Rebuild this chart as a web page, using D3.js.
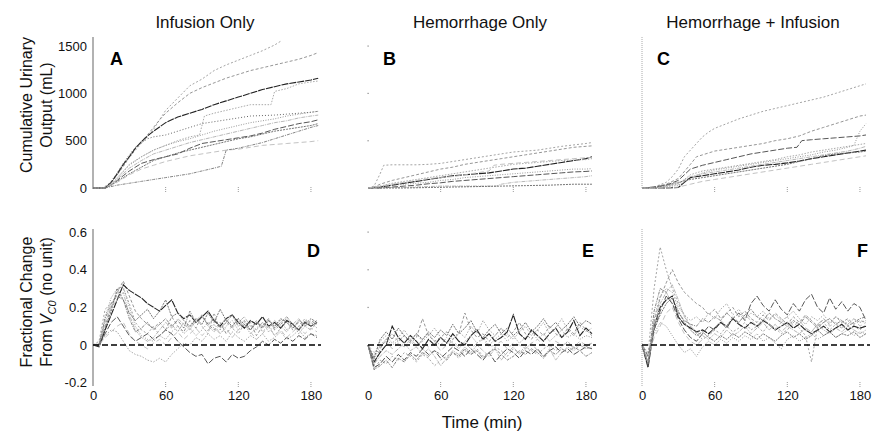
<!DOCTYPE html>
<html>
<head>
<meta charset="utf-8">
<title>Urinary output and fractional change of V_C0</title>
<script src="https://cdnjs.cloudflare.com/ajax/libs/d3/7.8.5/d3.min.js"></script>
<style>
  body { margin: 0; background: #fff; }
  svg { font-family: "Liberation Sans", Arial, sans-serif; }
</style>
</head>
<body>
<svg id="chart" width="882" height="434"></svg>
<script>
// ---- data ----
var groups = ["Infusion Only", "Hemorrhage Only", "Hemorrhage + Infusion"];
var topLetters = ["A", "B", "C"];
var botLetters = ["D", "E", "F"];

var yTicksTop = [0, 500, 1000, 1500];
var yTicksBot = [-0.2, 0, 0.2, 0.4, 0.6];
var yLabelsBot = ["-0.2", "0", "0.2", "0.4", "0.6"];
var xTicks = [0, 60, 120, 180];

// cumulative urinary output, [minute, mL]
var infusionUrine = [
  [[0,0],[8,0],[15,60],[20,140],[25,230],[30,320],[35,400],[40,470],[45,540],[50,620],[55,720],[60,820],[70,950],[80,1080],[90,1150],[100,1240],[110,1300],[120,1350],[130,1400],[140,1450],[150,1510],[155,1550]],
  [[0,0],[10,0],[15,60],[20,140],[25,230],[30,330],[35,420],[40,490],[45,560],[50,640],[55,720],[60,790],[70,900],[80,1000],[90,1060],[100,1110],[110,1160],[120,1200],[130,1240],[140,1270],[150,1300],[160,1330],[170,1360],[180,1400],[186,1430]],
  [[0,0],[10,0],[15,60],[20,150],[25,250],[30,330],[35,420],[40,490],[45,550],[50,600],[60,690],[70,750],[80,790],[90,830],[100,880],[110,920],[120,960],[130,1000],[140,1040],[150,1070],[160,1100],[170,1120],[180,1140],[186,1160]],
  [[0,0],[10,0],[15,40],[20,100],[25,170],[30,250],[40,330],[50,400],[60,450],[70,500],[80,540],[88,560],[92,760],[100,790],[110,820],[120,850],[130,880],[147,880],[150,1020],[160,1050],[170,1100],[180,1120],[186,1130]],
  [[0,0],[10,0],[15,30],[20,80],[25,130],[30,180],[40,260],[50,300],[60,330],[70,360],[80,420],[90,470],[100,490],[110,510],[120,530],[130,550],[140,580],[150,620],[160,650],[170,680],[180,700],[186,720]],
  [[0,0],[10,0],[15,50],[20,110],[25,180],[30,240],[40,330],[50,400],[60,450],[70,490],[80,520],[90,560],[100,600],[110,630],[120,660],[130,690],[140,710],[150,730],[160,760],[170,780],[180,800],[186,810]],
  [[0,0],[10,0],[15,40],[20,90],[25,150],[30,210],[40,290],[50,360],[60,400],[70,440],[80,480],[90,510],[100,540],[110,570],[120,600],[130,630],[140,660],[150,690],[160,710],[170,740],[180,760],[186,770]],
  [[0,0],[10,0],[15,30],[20,70],[25,110],[30,150],[40,220],[50,290],[60,330],[70,370],[80,400],[90,430],[100,460],[110,490],[120,520],[130,540],[140,570],[150,600],[160,620],[170,640],[180,660],[186,680]],
  [[0,0],[10,0],[15,30],[20,60],[25,100],[30,140],[40,200],[50,240],[60,280],[70,310],[80,340],[90,360],[100,380],[110,400],[120,410],[130,430],[140,450],[150,460],[160,470],[170,480],[180,490],[186,500]],
  [[0,0],[10,0],[20,30],[30,50],[40,70],[50,90],[60,110],[70,130],[80,150],[90,180],[100,210],[106,230],[110,400],[120,420],[130,450],[140,480],[150,520],[160,560],[170,600],[180,640],[186,660]],
  [[0,0],[10,0],[15,70],[20,160],[25,260],[30,350],[35,430],[40,480],[45,520],[50,540],[60,560],[70,600],[80,640],[90,680],[100,700],[110,720],[120,740],[130,760],[150,770],[160,780],[170,790],[180,800],[186,810]]
];

var hemorrhageUrine = [
  [[0,0],[5,20],[10,150],[13,240],[20,245],[30,245],[40,245],[50,250],[60,260],[70,280],[80,300],[90,320],[100,340],[110,360],[120,380],[130,390],[140,400],[150,420],[160,440],[170,455],[180,470],[185,480]],
  [[0,0],[5,10],[10,40],[20,80],[30,110],[40,140],[50,170],[60,200],[70,220],[80,250],[90,270],[100,290],[110,310],[120,330],[130,350],[140,370],[150,390],[160,410],[170,430],[180,440],[185,445]],
  [[0,0],[10,10],[20,30],[30,50],[40,70],[50,90],[60,110],[70,130],[80,140],[90,150],[100,160],[110,180],[120,200],[130,210],[140,230],[150,250],[160,270],[170,290],[180,310],[185,330]],
  [[0,0],[10,20],[20,50],[30,70],[40,90],[50,110],[60,130],[70,150],[80,170],[90,190],[100,210],[110,230],[120,250],[130,260],[140,270],[150,280],[160,290],[170,295],[180,300],[185,310]],
  [[0,0],[10,0],[20,10],[30,20],[40,30],[50,45],[60,55],[70,70],[80,80],[90,90],[100,100],[110,110],[120,120],[130,130],[140,140],[150,150],[160,160],[170,170],[180,175],[185,180]],
  [[0,0],[10,10],[20,30],[30,40],[40,50],[50,60],[60,80],[70,90],[80,110],[90,120],[100,130],[110,140],[120,150],[130,160],[140,170],[150,180],[160,190],[170,200],[180,200],[185,205]],
  [[0,0],[20,5],[40,10],[60,20],[70,20],[106,20],[110,40],[120,60],[130,70],[140,80],[150,90],[160,100],[170,110],[180,120],[185,130]],
  [[0,0],[10,0],[30,0],[50,5],[70,10],[90,15],[110,20],[130,25],[150,30],[170,40],[185,40]],
  [[0,0],[10,20],[20,40],[30,60],[40,80],[50,100],[60,110],[70,120],[80,140],[90,160],[100,180],[104,240],[110,250],[120,260],[130,270],[140,280],[150,290],[160,300],[170,310],[180,320],[185,320]]
];

var bothUrine = [
  [[0,0],[10,10],[20,60],[25,120],[30,200],[35,330],[40,400],[45,470],[50,540],[55,590],[60,630],[70,680],[80,730],[90,770],[100,810],[110,840],[120,870],[130,900],[140,930],[150,960],[160,1000],[170,1040],[180,1080],[185,1100]],
  [[0,0],[10,10],[20,40],[30,100],[40,250],[45,330],[50,350],[60,390],[70,410],[80,430],[90,450],[100,470],[110,500],[120,520],[130,550],[140,600],[150,640],[160,680],[170,720],[180,760],[185,770]],
  [[0,0],[10,0],[20,0],[30,5],[35,60],[40,110],[50,130],[60,150],[70,170],[80,190],[90,220],[100,240],[110,250],[120,265],[130,285],[140,310],[150,330],[160,350],[170,370],[180,390],[185,400]],
  [[0,0],[10,5],[20,20],[30,40],[40,140],[50,180],[60,200],[70,220],[80,240],[90,260],[100,280],[110,300],[120,330],[130,350],[140,380],[150,400],[160,420],[170,440],[180,460],[185,470]],
  [[0,0],[10,10],[20,30],[30,80],[40,200],[50,240],[60,270],[70,300],[80,330],[90,360],[100,380],[110,400],[120,420],[128,430],[132,500],[140,510],[150,520],[160,530],[170,540],[180,550],[185,560]],
  [[0,0],[10,0],[20,10],[30,30],[40,100],[50,160],[60,190],[70,210],[80,230],[90,250],[100,270],[110,290],[120,310],[130,330],[140,350],[150,380],[160,400],[170,430],[175,450],[180,600],[185,680]],
  [[0,0],[10,0],[20,20],[30,50],[40,120],[50,150],[60,170],[70,190],[80,210],[90,230],[100,250],[110,270],[120,290],[130,310],[140,330],[150,350],[160,370],[170,390],[180,420],[185,440]],
  [[0,0],[10,5],[20,30],[30,60],[40,90],[50,110],[60,130],[70,150],[80,170],[90,190],[100,210],[110,230],[120,250],[130,280],[140,310],[150,340],[160,360],[170,370],[180,380],[185,390]],
  [[0,0],[20,0],[30,10],[40,40],[50,70],[60,90],[70,110],[80,130],[90,150],[100,170],[110,190],[120,210],[130,230],[140,250],[150,270],[160,290],[170,310],[180,330],[185,340]]
];

// fractional change from V_C0, one value every 5 minutes
var minutes = [0,5,10,15,20,25,30,35,40,45,50,55,60,65,70,75,80,85,90,95,100,105,110,115,120,125,130,135,140,145,150,155,160,165,170,175,180,185];

var infusionVc = [
  [0,0.02,0.19,0.22,0.27,0.30,0.22,0.12,0.08,0.06,0.10,0.05,0.08,0.11,0.07,0.12,0.09,0.14,0.10,0.06,0.17,0.08,0.12,0.09,0.06,0.11,0.08,0.13,0.07,0.10,0.05,0.09,0.12,0.08,0.10,0.14,0.11,0.13],
  [0,0.00,0.10,0.20,0.28,0.34,0.26,0.18,0.14,0.11,0.09,0.12,0.08,0.15,0.10,0.07,0.13,0.09,0.16,0.11,0.08,0.12,0.06,0.10,0.14,0.09,0.12,0.05,0.10,0.13,0.08,0.11,0.14,0.09,0.12,0.10,0.13,0.11],
  [0,-0.01,0.08,0.16,0.24,0.32,0.29,0.27,0.25,0.22,0.20,0.18,0.21,0.24,0.17,0.14,0.16,0.12,0.15,0.18,0.13,0.10,0.14,0.16,0.12,0.09,0.13,0.11,0.15,0.10,0.12,0.09,0.13,0.11,0.08,0.12,0.10,0.12],
  [0,0.00,0.05,0.08,0.07,0.02,-0.03,-0.05,-0.06,-0.08,-0.09,-0.07,-0.09,-0.05,-0.02,0.01,0.00,0.04,0.02,0.06,0.03,0.05,0.02,0.07,0.04,0.02,0.05,0.03,0.06,0.02,0.04,0.07,0.03,0.05,0.08,0.04,0.06,0.05],
  [0,0.00,0.06,0.12,0.15,0.10,0.05,0.02,0.04,0.06,0.03,0.05,0.08,0.06,0.02,-0.01,-0.04,-0.06,-0.05,-0.10,-0.07,-0.06,-0.09,-0.05,-0.07,-0.06,-0.03,-0.01,0.02,0.00,0.03,0.01,0.04,0.02,0.05,0.03,0.06,0.04],
  [0,0.01,0.15,0.25,0.30,0.31,0.20,0.10,0.05,0.03,0.02,0.05,0.03,0.07,0.10,0.06,0.09,0.05,0.08,0.12,0.09,0.06,0.10,0.13,0.08,0.11,0.06,0.09,0.12,0.07,0.10,0.13,0.08,0.11,0.06,0.10,0.12,0.09],
  [0,0.00,0.12,0.20,0.24,0.28,0.16,0.08,0.04,0.02,0.04,0.08,0.12,0.09,0.14,0.11,0.08,0.13,0.16,0.10,0.07,0.11,0.14,0.09,0.12,0.15,0.10,0.08,0.12,0.09,0.13,0.10,0.07,0.11,0.14,0.10,0.08,0.12],
  [0,0.00,0.09,0.18,0.30,0.24,0.17,0.13,0.16,0.19,0.14,0.18,0.24,0.15,0.17,0.13,0.10,0.14,0.11,0.17,0.12,0.19,0.13,0.10,0.14,0.11,0.08,0.12,0.09,0.13,0.10,0.14,0.12,0.09,0.13,0.11,0.14,0.12],
  [0,0.00,0.04,0.07,0.10,0.12,0.06,0.02,0.00,-0.02,0.01,0.03,0.00,0.04,0.07,0.03,0.06,0.09,0.05,0.08,0.11,0.06,0.09,0.04,0.08,0.12,0.07,0.03,0.06,0.10,0.05,0.08,0.04,0.07,0.10,0.06,0.09,0.07],
  [0,0.00,0.14,0.22,0.26,0.24,0.14,0.07,0.09,0.12,0.08,0.11,0.14,0.10,0.13,0.09,0.18,0.12,0.15,0.11,0.14,0.09,0.12,0.16,0.10,0.13,0.08,0.12,0.10,0.14,0.09,0.12,0.15,0.11,0.08,0.13,0.10,0.12]
];

var hemorrhageVc = [
  [0,-0.13,-0.08,-0.10,-0.06,-0.08,-0.04,-0.06,-0.09,-0.05,-0.07,-0.11,-0.08,-0.06,-0.04,-0.07,-0.03,-0.05,-0.02,-0.06,-0.04,-0.01,-0.03,-0.06,-0.02,-0.04,-0.01,-0.03,-0.05,-0.02,0.00,-0.03,-0.01,0.02,-0.02,0.01,-0.01,0.01],
  [0,-0.11,-0.02,0.03,0.06,0.02,0.05,0.01,0.04,0.14,0.05,0.02,0.04,0.07,0.03,0.06,0.17,0.08,0.04,0.06,0.02,0.05,0.09,0.04,0.07,0.12,0.06,0.03,0.08,0.05,0.10,0.06,0.04,0.09,0.06,0.12,0.08,0.05],
  [0,-0.09,-0.04,0.00,0.10,0.04,0.01,0.05,0.02,-0.02,0.03,0.00,0.04,0.01,0.06,0.02,0.00,0.05,0.08,0.03,0.06,0.02,0.04,0.07,0.16,0.06,0.03,0.08,0.05,0.02,0.06,0.09,0.04,0.07,0.13,0.05,0.09,0.06],
  [0,-0.06,0.02,0.05,0.01,0.04,0.08,0.03,0.06,0.02,0.05,0.09,0.04,0.01,0.03,0.07,0.04,0.10,0.06,0.13,0.08,0.05,0.09,0.06,0.03,0.07,0.10,0.05,0.08,0.12,0.06,0.09,0.14,0.08,0.05,0.10,0.07,0.09],
  [0,-0.12,-0.10,-0.06,-0.09,-0.05,-0.08,-0.04,-0.06,-0.02,-0.05,-0.03,-0.07,-0.04,-0.01,-0.03,-0.06,-0.02,-0.05,-0.08,-0.04,-0.09,-0.05,-0.02,-0.04,-0.07,-0.03,-0.05,-0.02,-0.06,-0.03,-0.01,-0.04,-0.02,-0.05,-0.03,-0.01,-0.02],
  [0,-0.08,0.00,0.03,0.00,0.02,0.05,0.02,-0.01,0.03,0.06,0.02,0.00,0.04,0.01,-0.02,0.02,0.05,0.01,0.04,0.00,0.03,0.06,0.02,0.05,0.01,0.04,0.07,0.03,0.06,0.02,0.05,0.08,0.04,0.06,0.03,0.05,0.04],
  [0,-0.10,-0.06,-0.03,-0.05,-0.02,0.01,-0.03,-0.01,-0.05,-0.02,-0.06,-0.11,-0.07,-0.03,-0.05,-0.01,-0.04,0.00,-0.03,-0.06,-0.02,-0.08,-0.04,-0.01,-0.05,-0.02,0.01,-0.03,-0.06,-0.02,-0.08,-0.04,-0.01,-0.03,0.00,-0.02,-0.01],
  [0,-0.07,0.03,0.07,0.03,0.09,0.05,0.02,0.06,0.03,0.07,0.04,0.08,0.05,0.11,0.06,0.09,0.13,0.07,0.04,0.08,0.11,0.06,0.09,0.05,0.08,0.12,0.07,0.10,0.14,0.09,0.12,0.08,0.11,0.15,0.10,0.13,0.11],
  [0,-0.04,-0.01,0.02,-0.02,0.01,-0.01,0.03,0.00,0.02,-0.01,0.01,-0.03,0.00,0.02,-0.01,0.01,-0.02,0.01,0.03,-0.01,0.00,0.02,-0.02,0.01,0.00,-0.02,0.01,0.03,0.00,-0.01,0.02,0.00,0.01,-0.01,0.02,0.00,0.01],
  [0,-0.13,-0.11,-0.08,-0.12,-0.07,-0.09,-0.05,-0.08,-0.04,-0.06,-0.03,-0.05,-0.08,-0.04,-0.06,-0.02,-0.05,-0.03,-0.07,-0.04,-0.02,-0.05,-0.08,-0.06,-0.03,-0.05,-0.02,-0.04,-0.07,-0.03,-0.05,-0.02,-0.04,-0.01,-0.03,-0.06,-0.04]
];

var bothVc = [
  [0,-0.05,0.30,0.52,0.40,0.30,0.22,0.16,0.10,0.06,0.03,0.05,0.08,0.06,0.10,0.07,0.09,0.12,0.08,0.10,0.07,0.11,0.09,0.06,0.08,0.12,0.09,0.05,-0.09,0.10,0.12,0.08,0.11,0.09,0.13,0.10,0.08,0.11],
  [0,-0.08,0.12,0.25,0.33,0.40,0.33,0.28,0.25,0.22,0.20,0.16,0.19,0.14,0.17,0.20,0.15,0.18,0.14,0.12,0.16,0.13,0.17,0.14,0.11,0.15,0.12,0.16,0.13,0.10,0.14,0.11,0.15,0.12,0.14,0.11,0.13,0.12],
  [0,-0.12,0.10,0.20,0.24,0.26,0.15,0.11,0.09,0.07,0.08,0.06,0.09,0.12,0.10,0.14,0.11,0.09,0.12,0.10,0.13,0.11,0.08,0.10,0.12,0.09,0.11,0.08,0.06,0.08,0.10,0.07,0.09,0.11,0.08,0.10,0.09,0.10],
  [0,-0.10,0.14,0.26,0.30,0.28,0.20,0.16,0.13,0.15,0.12,0.17,0.14,0.19,0.22,0.16,0.19,0.14,0.17,0.15,0.18,0.14,0.16,0.13,0.15,0.18,0.14,0.11,0.15,0.13,0.16,0.12,0.15,0.13,0.11,0.14,0.12,0.13],
  [0,-0.06,0.08,0.18,0.26,0.22,0.14,0.08,0.04,0.02,0.06,0.10,0.08,0.12,0.09,0.14,0.17,0.13,0.22,0.26,0.21,0.18,0.24,0.19,0.16,0.22,0.18,0.24,0.27,0.20,0.17,0.25,0.19,0.23,0.18,0.22,0.20,0.13],
  [0,-0.04,0.06,0.12,0.10,0.05,0.00,-0.04,-0.02,-0.06,-0.01,0.02,0.00,0.03,0.01,0.04,0.02,0.05,0.03,0.06,0.02,0.04,0.01,-0.02,0.03,0.05,0.02,0.04,0.06,0.03,0.05,0.07,0.04,0.06,0.08,0.05,0.07,0.06],
  [0,-0.09,0.10,0.22,0.28,0.32,0.24,0.15,0.10,0.07,0.05,0.03,0.06,0.04,0.08,0.05,0.07,0.10,0.06,0.09,0.12,0.08,0.11,0.07,0.10,0.08,0.06,0.09,0.07,0.11,0.08,0.06,0.09,0.07,0.10,0.08,0.06,0.08],
  [0,-0.11,0.08,0.16,0.22,0.25,0.18,0.12,0.08,0.05,0.07,0.04,0.02,0.05,0.03,0.06,0.04,0.07,0.05,0.03,0.06,0.04,0.02,0.05,0.07,0.04,0.06,0.03,0.05,0.08,0.05,0.07,0.04,0.06,0.05,0.07,0.04,0.06],
  [0,-0.07,0.04,0.10,0.17,0.20,0.12,0.06,0.02,0.00,0.03,0.05,0.09,0.13,0.10,0.15,0.12,0.16,0.13,0.10,0.14,0.11,0.08,0.12,0.15,0.10,0.13,0.09,0.07,0.11,0.14,0.10,0.12,0.09,0.11,0.14,0.10,0.12],
  [0,-0.10,0.18,0.30,0.28,0.22,0.17,0.13,0.11,0.10,0.14,0.12,0.15,0.13,0.17,0.14,0.12,0.16,0.19,0.15,0.13,0.17,0.14,0.12,0.10,0.13,0.11,0.15,0.12,0.09,0.12,0.14,0.11,0.13,0.10,0.12,0.14,0.15]
];

var urineSets = [infusionUrine, hemorrhageUrine, bothUrine];
var vcSets = [infusionVc, hemorrhageVc, bothVc];

// ---- look: thin grey broken lines, two darker ones per panel ----
var lineStyles = [
  { stroke: "#9a9a9a", dash: "2,2",       width: 0.9 },
  { stroke: "#8a8a8a", dash: "3,2",       width: 0.9 },
  { stroke: "#222",    dash: "7,1",       width: 1.1 },
  { stroke: "#aaa",    dash: "1.5,1.5",   width: 1 },
  { stroke: "#444",    dash: "6,2",       width: 0.9 },
  { stroke: "#999",    dash: "1,1.5",     width: 1 },
  { stroke: "#b0b0b0", dash: "4,1,1,1",   width: 0.9 },
  { stroke: "#666",    dash: "2,1",       width: 0.9 },
  { stroke: "#bbb",    dash: "5,3",       width: 0.9 },
  { stroke: "#777",    dash: "3,1,1,1",   width: 0.9 },
  { stroke: "#666",    dash: "1,2",       width: 1 }
];

var colLeft = [93, 368, 642];
var plotW = 224;

var svg = d3.select("#chart");

var yTop = d3.scaleLinear().domain([0, 1600]).range([188, 36.5]);
var yBot = d3.scaleLinear().domain([-0.2, 0.6]).range([382.7, 232]);

function styleLine(sel, i) {
  var s = lineStyles[i % lineStyles.length];
  sel.attr("fill", "none")
    .attr("stroke", s.stroke)
    .attr("stroke-width", s.width)
    .attr("stroke-dasharray", s.dash);
}

function drawYAxisLine(g, col, y0, y1) {
  if (col === 0) {
    g.append("line").attr("x1", 0).attr("x2", 0).attr("y1", y0).attr("y2", y1)
      .attr("stroke", "#999").attr("stroke-width", 1.5);
  } else if (col === 2) {
    g.append("line").attr("x1", 0).attr("x2", 0).attr("y1", y0).attr("y2", y1)
      .attr("stroke", "#aaa").attr("stroke-width", 1).attr("stroke-dasharray", "1,1");
  }
}

groups.forEach(function(name, col) {
  var x = d3.scaleLinear().domain([0, 185]).range([colLeft[col], colLeft[col] + plotW]);

  // ---------- top row: cumulative urinary output ----------
  var gt = svg.append("g");
  var axT = gt.append("g").attr("transform", "translate(" + colLeft[col] + ",0)");
  drawYAxisLine(axT, col, 37, 189);
  if (col === 0) {
    var ya = axT.append("g").call(d3.axisLeft(yTop).tickValues(yTicksTop).tickSize(0).tickPadding(6)
      .tickFormat(d3.format("d")));
    ya.select(".domain").remove();
    ya.selectAll("text").attr("font-size", 13).attr("fill", "#111")
      .attr("font-family", "'Liberation Sans', Arial, sans-serif");
  } else if (col === 1) {
    axT.selectAll("rect.ytick").data(yTicksTop.slice(1)).enter().append("rect")
      .attr("x", -0.5).attr("y", function(d) { return yTop(d) - 0.5; })
      .attr("width", 1.2).attr("height", 1.2).attr("fill", "#888");
  }
  gt.selectAll("line.xt").data(xTicks.slice(1)).enter().append("line")
    .attr("x1", function(d) { return x(d); }).attr("x2", function(d) { return x(d); })
    .attr("y1", 187).attr("y2", 192)
    .attr("stroke", "#999").attr("stroke-width", 1).attr("stroke-dasharray", "1,1");

  var lineT = d3.line().x(function(d) { return x(d[0]); }).y(function(d) { return yTop(d[1]); });
  gt.selectAll("path.u").data(urineSets[col]).enter().append("path")
    .attr("d", lineT)
    .each(function(d, i) { styleLine(d3.select(this), i); });

  gt.append("text").attr("x", colLeft[col] + (col === 0 ? 17 : 15)).attr("y", 65)
    .attr("font-size", 18).attr("font-weight", "bold").attr("fill", "#000")
    .text(topLetters[col]);

  gt.append("text").attr("x", [205, 480, 753][col]).attr("y", 28)
    .attr("text-anchor", "middle").attr("font-size", 17).attr("fill", "#111")
    .text(name);

  // ---------- bottom row: fractional change of V_C0 ----------
  var gb = svg.append("g");
  var axB = gb.append("g").attr("transform", "translate(" + colLeft[col] + ",0)");
  drawYAxisLine(axB, col, 229, 386);
  if (col === 0) {
    var yb = axB.append("g").call(d3.axisLeft(yBot).tickValues(yTicksBot).tickSize(0).tickPadding(6)
      .tickFormat(function(d, i) { return yLabelsBot[i]; }));
    yb.select(".domain").remove();
    yb.selectAll("text").attr("font-size", 13).attr("fill", "#111")
      .attr("font-family", "'Liberation Sans', Arial, sans-serif");
  } else if (col === 1) {
    axB.selectAll("rect.ytick").data([0.2, 0.4, 0.6]).enter().append("rect")
      .attr("x", -0.5).attr("y", function(d) { return yBot(d) - 0.5; })
      .attr("width", 1.2).attr("height", 1.2).attr("fill", "#888");
  }
  gb.selectAll("line.xt").data(xTicks.slice(1)).enter().append("line")
    .attr("x1", function(d) { return x(d); }).attr("x2", function(d) { return x(d); })
    .attr("y1", 382).attr("y2", 387)
    .attr("stroke", "#999").attr("stroke-width", 1).attr("stroke-dasharray", "1,1");

  var xa = gb.append("g").attr("transform", "translate(0,391)")
    .call(d3.axisBottom(x).tickValues(xTicks).tickSize(0).tickPadding(0));
  xa.select(".domain").remove();
  xa.selectAll("text").attr("font-size", 13).attr("fill", "#111").attr("dy", "0.71em")
    .attr("font-family", "'Liberation Sans', Arial, sans-serif");

  var lineB = d3.line().x(function(d, i) { return x(minutes[i]); }).y(function(d) { return yBot(d); });
  gb.selectAll("path.v").data(vcSets[col]).enter().append("path")
    .attr("d", lineB)
    .each(function(d, i) { styleLine(d3.select(this), i); });

  // zero reference
  gb.append("line").attr("x1", x(0)).attr("x2", x(0) + 228)
    .attr("y1", yBot(0)).attr("y2", yBot(0))
    .attr("stroke", "#000").attr("stroke-width", 1.6).attr("stroke-dasharray", "6,3");

  gb.append("text").attr("x", colLeft[col] + [214, 214, 215][col]).attr("y", 257)
    .attr("font-size", 18).attr("font-weight", "bold").attr("fill", "#000")
    .text(botLetters[col]);
});

// axis titles
var tTop = svg.append("text").attr("transform", "translate(0,105) rotate(-90)")
  .attr("text-anchor", "middle").attr("font-size", 16).attr("fill", "#111");
tTop.append("tspan").attr("x", 0).attr("y", 32).text("Cumulative Urinary");
tTop.append("tspan").attr("x", 0).attr("y", 52).text("Output (mL)");

var tBot = svg.append("text").attr("transform", "translate(0,302) rotate(-90)")
  .attr("text-anchor", "middle").attr("font-size", 16).attr("fill", "#111");
tBot.append("tspan").attr("x", 0).attr("y", 32).text("Fractional Change");
var l2 = tBot.append("tspan").attr("x", 0).attr("y", 52);
l2.append("tspan").text("From ");
l2.append("tspan").attr("font-style", "italic").text("V");
l2.append("tspan").attr("font-style", "italic").attr("font-size", 11).attr("dy", 4).text("C0");
l2.append("tspan").attr("dy", -4).text(" (no unit)");

svg.append("text").attr("x", 482).attr("y", 428).attr("text-anchor", "middle")
  .attr("font-size", 17).attr("fill", "#111").text("Time (min)");
</script>
</body>
</html>
